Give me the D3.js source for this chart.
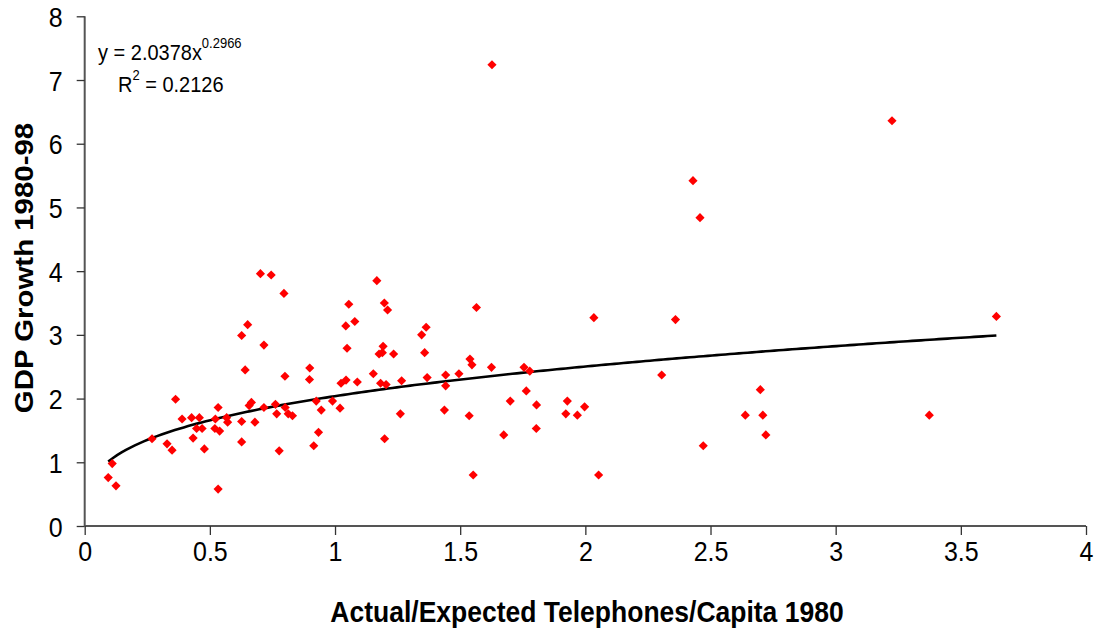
<!DOCTYPE html>
<html lang="en">
<head>
<meta charset="utf-8">
<title>GDP Growth vs Telephones</title>
<script src="https://d3js.org/d3.v7.min.js"></script>
<style>
  body { margin: 0; background: #fff; }
  svg text { font-family: "Liberation Sans", Arial, sans-serif; fill: #000; }
</style>
</head>
<body>
<svg width="1102" height="643"></svg>
<script>
// actual/expected telephones per capita 1980
var phones = [0.094, 0.110, 0.125, 0.269, 0.329, 0.349, 0.363, 0.389, 0.427, 0.433,
  0.447, 0.458, 0.469, 0.478, 0.520, 0.522, 0.533, 0.539, 0.533, 0.567,
  0.571, 0.627, 0.627, 0.627, 0.651, 0.641, 0.657, 0.666, 0.680, 0.702,
  0.716, 0.716, 0.745, 0.762, 0.767, 0.777, 0.796, 0.800, 0.801, 0.813,
  0.830, 0.899, 0.898, 0.915, 0.925, 0.934, 0.945, 0.990, 1.020, 1.024,
  1.044, 1.043, 1.048, 1.055, 1.079, 1.089, 1.153, 1.167, 1.176, 1.189,
  1.192, 1.182, 1.204, 1.197, 1.210, 1.234, 1.198, 1.261, 1.266, 1.346,
  1.364, 1.358, 1.368, 1.442, 1.442, 1.437, 1.495, 1.536, 1.539, 1.547,
  1.552, 1.565, 1.625, 1.674, 1.700, 1.755, 1.778, 1.764, 1.805, 1.804,
  1.928, 1.922, 1.968, 1.997, 2.034, 2.053, 1.627, 2.305, 2.360, 2.471,
  2.430, 2.458, 2.639, 2.699, 2.709, 2.721, 3.225, 3.374, 3.642];

// GDP growth 1980-98
var growth = [0.76, 0.98, 0.63, 1.37, 1.29, 1.19, 1.99, 1.68, 1.70, 1.38,
  1.53, 1.70, 1.53, 1.21, 1.53, 1.68, 1.86, 1.49, 0.58, 1.70,
  1.63, 1.64, 1.32, 2.99, 3.16, 2.45, 1.89, 1.94, 1.63, 3.96,
  2.84, 1.86, 3.94, 1.91, 1.76, 1.18, 3.65, 2.35, 1.86, 1.76,
  1.73, 2.48, 2.30, 1.26, 1.96, 1.47, 1.82, 1.96, 1.85, 2.24,
  2.29, 3.14, 2.79, 3.48, 3.21, 2.26, 2.39, 3.85, 2.70, 2.72,
  2.82, 2.24, 2.22, 3.50, 3.39, 2.70, 1.37, 1.76, 2.28, 3.00,
  3.12, 2.72, 2.33, 2.37, 2.20, 1.82, 2.39, 1.73, 2.62, 2.53,
  0.80, 3.43, 2.49, 1.43, 1.96, 2.49, 2.43, 2.12, 1.90, 1.53,
  1.96, 1.76, 1.74, 1.87, 3.27, 0.80, 7.24, 2.37, 3.24, 1.26,
  5.42, 4.84, 1.74, 2.14, 1.74, 1.43, 6.36, 1.74, 3.29];

var xTicks = [0, 0.5, 1, 1.5, 2, 2.5, 3, 3.5, 4];
var yTicks = [0, 1, 2, 3, 4, 5, 6, 7, 8];

// power trendline shown on the chart
var trendA = 2.0378;
var trendB = 0.2966;
var rSquared = 0.2126;

var svg = d3.select('svg');
var mLeft = 84.7, mRight = 1086, mTop = 16.3, mBottom = 526;
var stretch = 1.11;   // text in the original looks vertically stretched

var x = d3.scaleLinear().domain([0, 4]).range([mLeft, mRight]);
var y = d3.scaleLinear().domain([0, 8]).range([mBottom, mTop]);

// axes
var xAxis = svg.append('g')
  .attr('transform', 'translate(0,' + mBottom + ')')
  .call(d3.axisBottom(x).tickValues(xTicks).tickSize(9).tickPadding(0).tickFormat(d3.format('~g')));
var yAxis = svg.append('g')
  .attr('transform', 'translate(' + mLeft + ',0)')
  .call(d3.axisLeft(y).tickValues(yTicks).tickSize(8).tickPadding(0).tickFormat(d3.format('d')));

[xAxis, yAxis].forEach(function(a) {
  a.select('.domain').attr('stroke', '#555').attr('stroke-width', 2);
  a.selectAll('.tick line').attr('stroke', '#333').attr('stroke-width', 1.3);
  a.selectAll('.tick text').style('font-size', '25px').attr('fill', '#000');
});
xAxis.selectAll('.tick text').attr('y', 0).attr('dy', 0)
  .attr('transform', 'translate(0,35) scale(1,' + stretch + ')');
yAxis.selectAll('.tick text').attr('x', 0).attr('dy', 0)
  .attr('transform', 'translate(-22,10) scale(1,' + stretch + ')');
xAxis.select('.domain').attr('d', 'M' + mLeft + ',0H' + mRight);
yAxis.select('.domain').attr('d', 'M0,' + mBottom + 'V' + mTop);

// axis titles
svg.append('text')
  .attr('transform', 'translate(587,622) scale(1,' + stretch + ')')
  .attr('text-anchor', 'middle')
  .style('font-size', '26.5px').style('font-weight', 'bold')
  .text('Actual/Expected Telephones/Capita 1980');

svg.append('text')
  .attr('transform', 'translate(33,268) rotate(-90) scale(' + stretch + ',1)')
  .attr('text-anchor', 'middle')
  .style('font-size', '26.5px').style('font-weight', 'bold')
  .text('GDP Growth 1980-98');

// trendline
var xMin = d3.min(phones), xMax = d3.max(phones);
var trend = d3.range(0, 201).map(function(i) {
  var v = xMin + (xMax - xMin) * i / 200;
  return [v, trendA * Math.pow(v, trendB)];
});
svg.append('path')
  .datum(trend)
  .attr('fill', 'none')
  .attr('stroke', '#000')
  .attr('stroke-width', 2.6)
  .attr('d', d3.line().x(function(d) { return x(d[0]); }).y(function(d) { return y(d[1]); }));

// points
var diamond = d3.symbol().type(d3.symbolSquare).size(42);
svg.append('g')
  .selectAll('path')
  .data(phones)
  .enter()
  .append('path')
  .attr('d', diamond)
  .attr('fill', '#ff0000')
  .attr('transform', function(d, i) {
    return 'translate(' + x(d) + ',' + y(growth[i]) + ') rotate(45)';
  });

// equation label
var eq = svg.append('text')
  .attr('transform', 'translate(98,60) scale(1,' + stretch + ')')
  .style('font-size', '20px');
eq.append('tspan').text('y = ' + trendA + 'x');
eq.append('tspan').attr('dy', -11).style('font-size', '13px').text(trendB);

var r2 = svg.append('text')
  .attr('transform', 'translate(118,92) scale(1,' + stretch + ')')
  .style('font-size', '20px');
r2.append('tspan').text('R');
r2.append('tspan').attr('dy', -11).style('font-size', '13px').text('2');
r2.append('tspan').attr('dy', 11).text(' = ' + rSquared);
</script>
</body>
</html>
